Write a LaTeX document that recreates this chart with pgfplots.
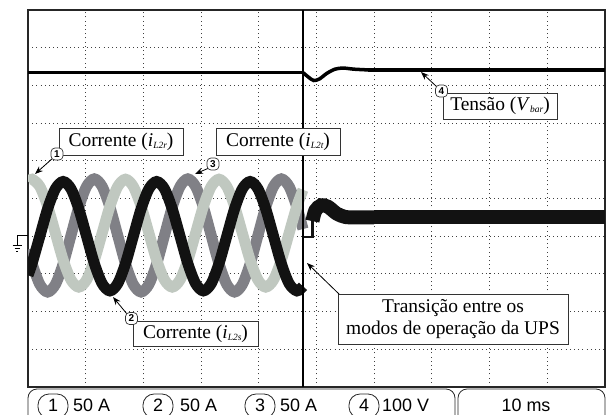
\documentclass[border=0pt]{standalone}
\usepackage{pgfplots}
\pgfplotsset{compat=1.18}
\usetikzlibrary{arrows.meta}
\usepackage{fontspec}
\setmainfont{Liberation Serif}
\newfontfamily\arial{Liberation Sans}
\definecolor{chone}{RGB}{192,200,192}
\definecolor{chthree}{RGB}{128,128,134}
\definecolor{chtwo}{RGB}{18,18,18}
\newcommand\sub[1]{\raisebox{-2bp}{\fontsize{9.5}{10}\selectfont\itshape #1}}
\newcommand\annfont{\fontsize{19.5}{22}\selectfont}
\begin{document}
\begin{tikzpicture}[x=1bp,y=1bp]
\useasboundingbox (0,0) rectangle (612,414);
\clip (0,0) rectangle (612,414);
\begin{axis}[at={(28bp,27bp)}, anchor=south west, scale only axis,
  width=577bp, height=377bp,
  xmin=0, xmax=100, ymin=-5, ymax=5,
  xtick={10,20,...,90}, ytick={-4,-3,...,4},
  xticklabels={}, yticklabels={}, major tick length=0pt,
  grid=major,
  major grid style={dash pattern=on 1bp off 3.2bp, black!75, line width=0.9bp},
  axis line style={line width=1.3bp, black!85}]
% channel 3 (dark gray)
\addplot[chthree, line width=11bp, smooth] coordinates {(0,-1.353) (0.7,-1.73) (2.05,-2.279) (3.4,-2.48) (4.75,-2.279) (6.1,-1.73) (7.45,-0.98) (8.8,-0.23) (10.15,0.319) (11.5,0.52) (12.85,0.319) (14.2,-0.23) (15.55,-0.98) (16.9,-1.73) (18.25,-2.279) (19.6,-2.48) (20.95,-2.279) (22.3,-1.73) (23.65,-0.98) (25,-0.23) (26.35,0.319) (27.7,0.52) (29.05,0.319) (30.4,-0.23) (31.75,-0.98) (33.1,-1.73) (34.45,-2.279) (35.8,-2.48) (37.15,-2.279) (38.5,-1.73) (39.85,-0.98) (41.2,-0.23) (42.55,0.319) (43.9,0.52) (45.25,0.319) (46.6,-0.23) (47.66,-0.81)};
% channel 1 (light gray)
\addplot[chone, line width=11bp, smooth] coordinates {(0,0.457) (0.7,0.51) (2.05,0.318) (3.4,-0.205) (4.75,-0.92) (6.1,-1.635) (7.45,-2.158) (8.8,-2.35) (10.15,-2.158) (11.5,-1.635) (12.85,-0.92) (14.2,-0.205) (15.55,0.318) (16.9,0.51) (18.25,0.318) (19.6,-0.205) (20.95,-0.92) (22.3,-1.635) (23.65,-2.158) (25,-2.35) (26.35,-2.158) (27.7,-1.635) (29.05,-0.92) (30.4,-0.205) (31.75,0.318) (33.1,0.51) (34.45,0.318) (35.8,-0.205) (37.15,-0.92) (38.5,-1.635) (39.85,-2.158) (41.2,-2.35) (42.55,-2.158) (43.9,-1.635) (45.25,-0.92) (46.6,-0.205) (47.66,0.231)};
% channel 2 (black)
\addplot[chtwo, line width=11bp, smooth] coordinates {(0,-2.035) (0.7,-1.725) (2.05,-1) (3.4,-0.275) (4.75,0.256) (6.1,0.45) (7.45,0.256) (8.8,-0.275) (10.15,-1) (11.5,-1.725) (12.85,-2.256) (14.2,-2.45) (15.55,-2.256) (16.9,-1.725) (18.25,-1) (19.6,-0.275) (20.95,0.256) (22.3,0.45) (23.65,0.256) (25,-0.275) (26.35,-1) (27.7,-1.725) (29.05,-2.256) (30.4,-2.45) (31.75,-2.256) (33.1,-1.725) (34.45,-1) (35.8,-0.275) (37.15,0.256) (38.5,0.45) (39.85,0.256) (41.2,-0.275) (42.55,-1) (43.9,-1.725) (45.25,-2.256) (46.6,-2.45) (47.66,-2.33)};
\addplot[chtwo, line width=2.5bp] coordinates {(47.66,-2.33) (47.66,-1.02) (49.3,-1.02) (49.3,-0.55)};
\addplot[chtwo, line width=14bp, smooth] coordinates {(49.3,-0.6) (49.8,-0.32) (50.8,-0.18) (52,-0.22) (53.5,-0.4) (55,-0.49) (57,-0.5) (60,-0.5)};
\addplot[chtwo, line width=14bp] coordinates {(60,-0.5) (100,-0.5)};
% channel 4 (voltage)
\addplot[black, line width=3.5bp] coordinates {(0,3.34) (47.66,3.34)};
\addplot[black, line width=3.5bp, smooth] coordinates {(47.66,3.34) (48.6,3.22) (49.5,3.13) (50.5,3.17) (51.8,3.32) (53.2,3.43) (54.6,3.46) (56.5,3.43) (59,3.41)};
\addplot[black, line width=3.5bp] coordinates {(59,3.41) (100,3.41)};
% transition cursor
\addplot[black, line width=1.2bp] coordinates {(47.66,-5) (47.66,5)};
\end{axis}
% ground marker
\draw[line width=0.9bp] (28,179) -- (17,179) -- (17,169);
\draw[line width=0.9bp] (12.5,169) -- (21.5,169) (14.5,166) -- (19.5,166) (16,163) -- (18,163);
% annotations
\tikzset{ann/.style={draw=black!80, fill=white, line width=0.6bp},
  arr/.style={line width=0.8bp, -{Stealth[length=8bp,width=6bp]}},
  num/.style={draw=black!80, fill=white, line width=0.7bp, rounded corners=4bp, minimum width=12bp, minimum height=12bp, inner sep=0pt, font=\arial\bfseries\fontsize{10}{10}\selectfont}}
% Corrente iL2r
\draw[ann] (59,259) rectangle (183,286);
\node[font=\annfont] at (121,272) {Corrente (\textit{i}\sub{L2r})};
\draw[arr] (53,256) -- (35,240);
\node[num] at (57,260) {1};
% Corrente iL2t
\draw[ann] (216,259) rectangle (340,286);
\node[font=\annfont] at (278,272) {Corrente (\textit{i}\sub{L2t})};
\draw[arr] (209,246) -- (195,240);
\node[num] at (213,250) {3};
% Tensao
\draw[ann] (443,295) rectangle (557,321);
\node[font=\annfont] at (500,308) {Tensão (\textit{V}\sub{bar})};
\draw[arr] (437,327) -- (421,342);
\node[num] at (441.5,323) {4};
% Corrente iL2s
\draw[ann] (133,68) rectangle (258,93);
\node[font=\annfont] at (195.5,80.5) {Corrente (\textit{i}\sub{L2s})};
\draw[arr] (127,100) -- (113,117);
\node[num] at (131.5,95.5) {2};
% Transicao
\draw[ann] (338,70) rectangle (568,120);
\node[font=\annfont, align=center] at (453,95) {Transição entre os\\modos de operação da UPS};
\draw[arr] (339,120) -- (307,151);
% status bar
\draw[line width=0.8bp, black!85, rounded corners=9bp] (28,-20) rectangle (455,25);
\draw[line width=0.8bp, black!85, rounded corners=9bp] (458,-20) rectangle (605,25);
\tikzset{capsule/.style={draw=black!85, line width=0.8bp, rounded corners=11bp}}
\draw[capsule] (38,-4) rectangle (68,20);
\draw[capsule] (143,-4) rectangle (173,20);
\draw[capsule] (245,-4) rectangle (275,20);
\draw[capsule] (349,-4) rectangle (379,20);
\tikzset{st/.style={font=\arial\fontsize{18}{18}\selectfont, inner sep=0pt, anchor=base}}
\node[st] at (53,3) {1};
\node[st] at (158,3) {2};
\node[st] at (260,3) {3};
\node[st] at (364,3) {4};
\node[st, anchor=base west] at (73,3) {50 A};
\node[st, anchor=base west] at (180,3) {50 A};
\node[st, anchor=base west] at (280,3) {50 A};
\node[st, anchor=base west] at (382,3) {100 V};
\node[st] at (526,3) {10 ms};
\end{tikzpicture}
\end{document}
